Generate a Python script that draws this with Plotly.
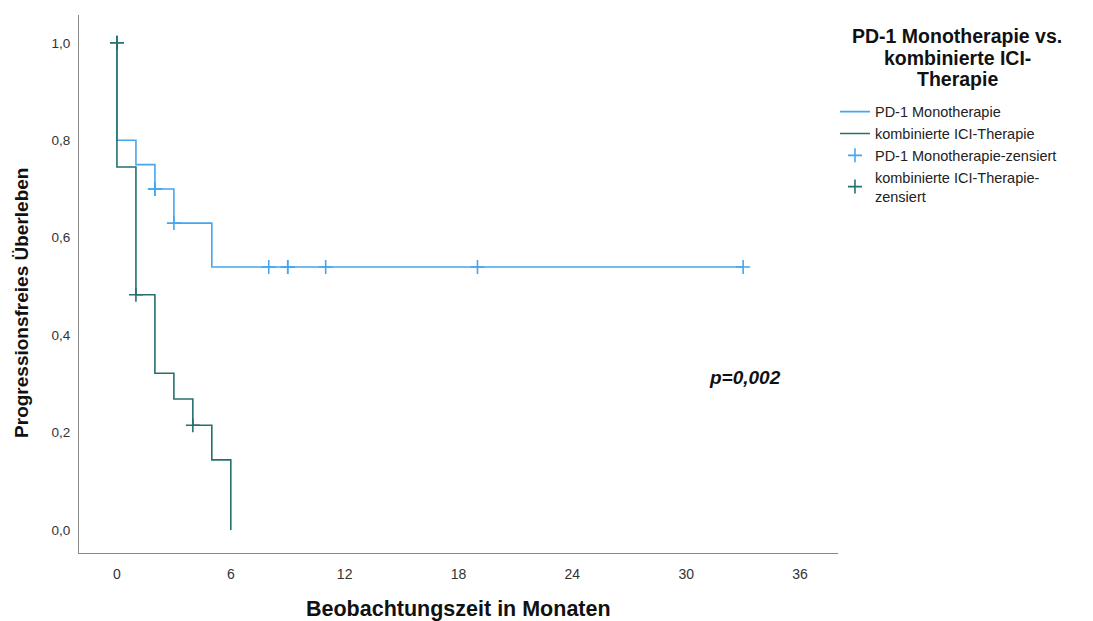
import plotly.graph_objects as go

# Kaplan-Meier step data (months, survival)
mono_t = [0, 0, 1, 2, 3, 5, 33]
mono_s = [1.0, 0.80, 0.75, 0.70, 0.63, 0.54, 0.54]
combo_t = [0, 0, 1, 2, 3, 4, 5, 6]
combo_s = [1.0, 0.745, 0.483, 0.322, 0.269, 0.215, 0.144, 0.0]

# censored observations
mono_cens_t = [2, 2, 3, 8, 9, 9, 11, 19, 33]
mono_cens_s = [0.70, 0.70, 0.63, 0.54, 0.54, 0.54, 0.54, 0.54, 0.54]
combo_cens_t = [0, 0, 1, 4]
combo_cens_s = [1.0, 1.0, 0.483, 0.215]

x_ticks = [0, 6, 12, 18, 24, 30, 36]
y_ticks = [0.0, 0.2, 0.4, 0.6, 0.8, 1.0]
y_tick_labels = ["0,0", "0,2", "0,4", "0,6", "0,8", "1,0"]

legend_title_lines = ["PD-1 Monotherapie vs.", "kombinierte ICI-", "Therapie"]

BLUE = "#45a6ef"
TEAL = "#26706f"
FONT = "Liberation Sans, Arial, sans-serif"

fig = go.Figure()
fig.add_trace(go.Scatter(x=mono_t, y=mono_s, mode="lines", line=dict(shape="hv", color=BLUE, width=1.6),
                         name="PD-1 Monotherapie"))
fig.add_trace(go.Scatter(x=combo_t, y=combo_s, mode="lines", line=dict(shape="hv", color=TEAL, width=1.6),
                         name="kombinierte ICI-Therapie"))
fig.add_trace(go.Scatter(x=mono_cens_t, y=mono_cens_s, mode="markers",
                         marker=dict(symbol="cross-thin", size=10, line=dict(color=BLUE, width=1.6)),
                         name="PD-1 Monotherapie-zensiert"))
fig.add_trace(go.Scatter(x=combo_cens_t, y=combo_cens_s, mode="markers",
                         marker=dict(symbol="cross-thin", size=10, line=dict(color=TEAL, width=1.6)),
                         name="kombinierte ICI-Therapie-<br>zensiert"))

annotations = [
    dict(text="<b>Beobachtungszeit in Monaten</b>", xref="paper", yref="paper", x=0.5, y=-0.104,
         xanchor="center", yanchor="middle", showarrow=False, font=dict(size=21.5, family=FONT, color="#111")),
    dict(text="<b>Progressionsfreies Überleben</b>", xref="paper", yref="paper", x=-0.075, y=0.465,
         xanchor="center", yanchor="middle", textangle=-90, showarrow=False,
         font=dict(size=19, family=FONT, color="#111")),
    dict(text="<b><i>p=0,002</i></b>", xref="x", yref="y", x=33.1, y=0.313,
         xanchor="center", yanchor="middle", showarrow=False, font=dict(size=19, family=FONT, color="#111")),
]
for i, line in enumerate(legend_title_lines):
    annotations.append(dict(text="<b>" + line + "</b>", xref="paper", yref="paper",
                            x=1.157, y=0.961 - i * 0.0400, xanchor="center", yanchor="middle",
                            showarrow=False, font=dict(size=19.5, family=FONT, color="#111")))

fig.update_layout(
    width=1093, height=621,
    margin=dict(l=79, r=255, t=15, b=68),
    paper_bgcolor="white", plot_bgcolor="white",
    font=dict(family=FONT, color="#222"),
    showlegend=True,
    legend=dict(
        x=0.996, xanchor="left", y=0.85, yanchor="top",
        font=dict(size=14.5, family=FONT, color="#222"),
        tracegroupgap=0, itemwidth=30,
    ),
    xaxis=dict(range=[-2, 38], tickvals=x_ticks, showgrid=False, zeroline=False,
               showline=True, linecolor="#888", linewidth=1.2,
               ticks="outside", ticklen=8, tickcolor="rgba(0,0,0,0)",
               tickfont=dict(size=14, family=FONT, color="#333")),
    yaxis=dict(range=[-0.047, 1.057], tickvals=y_ticks, ticktext=y_tick_labels, showgrid=False, zeroline=False,
               showline=True, linecolor="#888", linewidth=1.2,
               ticks="outside", ticklen=5, tickcolor="rgba(0,0,0,0)",
               tickfont=dict(size=13.5, family=FONT, color="#333")),
    annotations=annotations,
)

fig.write_html("out.html")
